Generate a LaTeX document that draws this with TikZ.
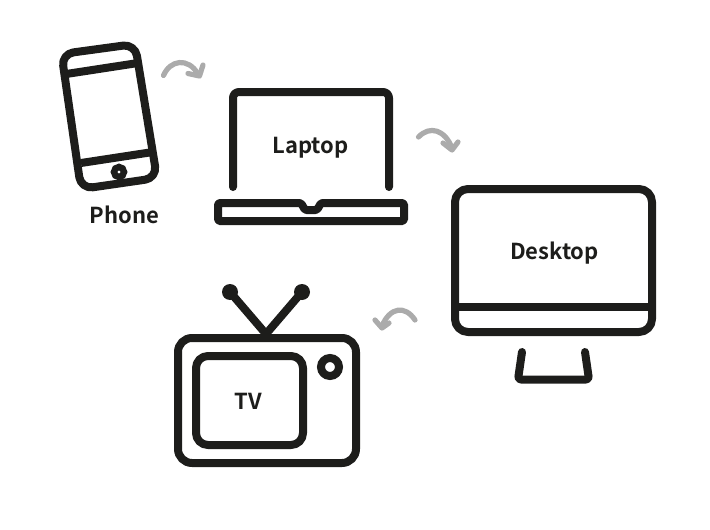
\documentclass[tikz,border=0pt]{standalone}
\usepackage{fontspec}
\setmainfont{Noto Sans CJK SC}[BoldFont={Noto Sans CJK SC Bold}]
\definecolor{ink}{HTML}{1D1D1B}
\definecolor{flow}{HTML}{ABABAB}
\tikzset{
  device/.style={draw=ink,line width=8pt,line join=round},
  devicecap/.style={device,line cap=round},
  turn/.style={draw=flow,line width=5.2pt,line cap=round,line join=round},
  lbl/.style={text=ink,font=\fontsize{22}{24}\selectfont\bfseries,inner sep=0pt},
}
\begin{document}
\begin{tikzpicture}[x=1pt,y=-1pt]
\useasboundingbox (0,0) rectangle (710,530);
% Phone
\draw[device,rounded corners=12pt] (61.5,54) -- (135,44) -- (157,178) -- (81,189) -- cycle;
\draw[device] (63,74.5) -- (138,63);
\draw[device] (81,163) -- (153,152);
\draw[draw=ink,line width=6.5pt] (119,172) circle[radius=5];
% Laptop
\draw[devicecap,rounded corners=6pt] (233,187) -- (233,92) -- (389,92) -- (389,187);
\draw[device,rounded corners=1.5pt] (218,203) -- (218,221) -- (404,221) -- (404,203) -- (321,203) -- (317,210) -- (305,210) -- (301,203) -- cycle;
% Desktop
\draw[device,rounded corners=13pt] (455,189) rectangle (652,332);
\draw[device] (455,307) -- (652,307);
\draw[devicecap,rounded corners=3pt] (522,352) -- (518,379.5) -- (589,379.5) -- (585,352);
% TV
\draw[device,rounded corners=14pt] (178,338) rectangle (356,463);
\draw[device,rounded corners=12pt] (196,356) rectangle (303,445);
\draw[draw=ink,line width=8pt] (330,367) circle[radius=9];
\draw[devicecap] (230,292) -- (266,334) -- (302,292);
\fill[ink] (230,292) circle[radius=8];
\fill[ink] (302,292) circle[radius=8];
% Turn arrows
\draw[turn] (163.5,75.5) .. controls (170,60) and (188,57) .. (198,74);
\draw[turn] (203,65) -- (199.5,76) -- (188,73.5);
\draw[turn] (418.5,137) .. controls (430,125) and (445,130) .. (452,148);
\draw[turn] (458,142) -- (452,150) -- (443,143);
\draw[turn] (415,320) .. controls (405,305) and (390,307) .. (382,326);
\draw[turn] (375,320) -- (382,328) -- (389,323);
% Labels
\node[lbl] (phone) at (124.5,214.5) {Phone};
\node[lbl] (laptop) at (310.5,148) {Laptop};
\node[lbl] (desktop) at (554.5,253) {Desktop};
\node[lbl] (tv) at (248,401) {TV};
\end{tikzpicture}
\end{document}
